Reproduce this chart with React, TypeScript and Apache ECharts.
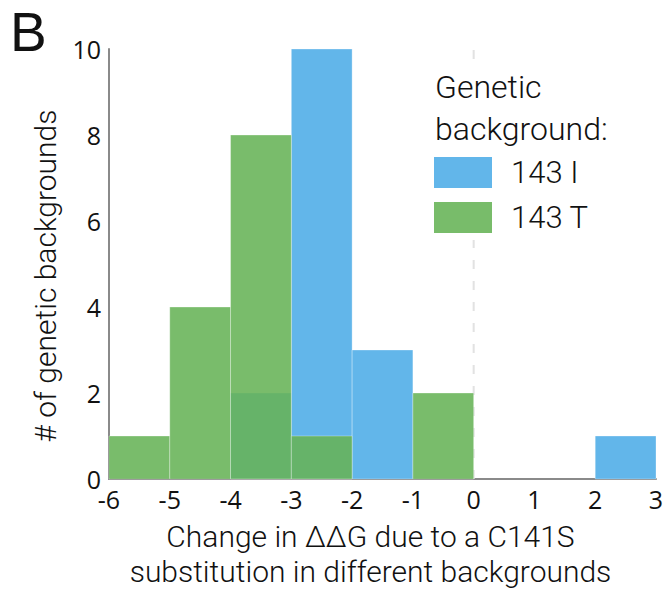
import React, { useEffect, useRef } from "react";
import * as echarts from "echarts";

const binStarts = [-6, -5, -4, -3, -2, -1, 0, 1, 2];
const binWidth = 1;
const counts143I = [0, 0, 2, 10, 3, 0, 0, 0, 1];
const counts143T = [1, 4, 8, 1, 0, 2, 0, 0, 0];
const seriesNames = ["143 I", "143 T"];
const xTicks = { min: -6, max: 3, interval: 1 };
const yTicks = { min: 0, max: 10, interval: 2 };
const refLineX = 0;

const BLUE = "#62b6ea";
const GREEN = "rgba(102,179,86,0.88)";

function toBins(counts: number[]) {
  return binStarts
    .map((s, i) => [s, s + binWidth, counts[i]])
    .filter((d) => d[2] > 0);
}

function renderBar(color: string) {
  return (params: any, api: any) => {
    const x0 = api.value(0);
    const x1 = api.value(1);
    const c = api.value(2);
    const p0 = api.coord([x0, c]);
    const p1 = api.coord([x1, 0]);
    return {
      type: "rect",
      shape: { x: p0[0], y: p0[1], width: p1[0] - p0[0], height: p1[1] - p0[1] },
      style: { fill: color, stroke: "rgba(255,255,255,0.3)", lineWidth: 1 },
    };
  };
}

export default function App() {
  const ref = useRef<HTMLDivElement>(null);
  useEffect(() => {
    if (!ref.current) return;
    document.body.style.margin = "0";
    const chart = echarts.init(ref.current, null, { renderer: "svg" });
    const titleFont = "Roboto, 'Liberation Sans', sans-serif";
    const tickFont = "'Open Sans', sans-serif";
    chart.setOption({
      animation: false,
      backgroundColor: "#fff",
      grid: { left: 109, right: 12, top: 49, bottom: 118 },
      xAxis: {
        type: "value",
        min: xTicks.min,
        max: xTicks.max,
        interval: xTicks.interval,
        axisLine: { onZero: false, lineStyle: { color: "#8a8a8a", width: 2 } },
        axisTick: { show: false },
        splitLine: { show: false },
        axisLabel: { color: "#111", fontSize: 25, fontFamily: tickFont, margin: 7 },
        name: "Change in ΔΔG due to a C141S\nsubstitution in different backgrounds",
        nameLocation: "middle",
        nameGap: 40,
        nameTextStyle: {
          color: "#111",
          fontSize: 30,
          fontWeight: 300,
          fontFamily: titleFont,
          lineHeight: 35,
          padding: [0, 24, 0, 0],
        },
      },
      yAxis: {
        type: "value",
        min: yTicks.min,
        max: yTicks.max,
        interval: yTicks.interval,
        axisLine: { show: true, onZero: false, lineStyle: { color: "#8a8a8a", width: 2 } },
        axisTick: { show: false },
        splitLine: { show: false },
        axisLabel: { color: "#111", fontSize: 25, fontFamily: tickFont, margin: 8 },
        name: "# of genetic backgrounds",
        nameLocation: "middle",
        nameRotate: 90,
        nameGap: 49,
        nameTextStyle: {
          color: "#111",
          fontSize: 30,
          fontWeight: 300,
          fontFamily: titleFont,
          padding: [0, 24, 0, 0],
        },
      },
      legend: {
        orient: "vertical",
        left: 434,
        top: 157,
        itemWidth: 58,
        itemHeight: 31,
        itemGap: 14,
        padding: 0,
        icon: "rect",
        z: 6,
        data: [
          { name: seriesNames[0], itemStyle: { color: BLUE } },
          { name: seriesNames[1], itemStyle: { color: "#78bc6a" } },
        ],
        textStyle: {
          color: "#111",
          fontSize: 31,
          fontWeight: 300,
          fontFamily: titleFont,
          padding: [0, 0, 0, 14],
        },
      },
      graphic: [
        {
          type: "rect",
          left: 428,
          top: 68,
          z: 4,
          shape: { width: 220, height: 172 },
          style: { fill: "#fff" },
        },
        {
          type: "text",
          left: 435,
          top: 66,
          z: 6,
          style: {
            text: "Genetic\nbackground:",
            fontSize: 32,
            fontWeight: 300,
            fontFamily: titleFont,
            lineHeight: 42,
            fill: "#111",
          },
        },
        {
          type: "text",
          left: 10,
          top: 0,
          z: 6,
          style: {
            text: "B",
            fontSize: 55,
            lineHeight: 64,
            fontFamily: "'Liberation Sans', Arial, sans-serif",
            fill: "#111",
          },
        },
      ],
      series: [
        {
          type: "line",
          name: "ref",
          data: [
            [refLineX, yTicks.min],
            [refLineX, yTicks.max],
          ],
          symbol: "none",
          silent: true,
          z: 1,
          itemStyle: { color: "#e2e2e2" },
          lineStyle: { type: [9, 12], color: "#e2e2e2", width: 2 },
        },
        {
          type: "custom",
          name: seriesNames[0],
          itemStyle: { color: BLUE },
          renderItem: renderBar(BLUE),
          encode: { x: [0, 1], y: 2 },
          data: toBins(counts143I),
          z: 2,
        },
        {
          type: "custom",
          name: seriesNames[1],
          itemStyle: { color: GREEN },
          renderItem: renderBar(GREEN),
          encode: { x: [0, 1], y: 2 },
          data: toBins(counts143T),
          z: 2,
        },
      ],
    });
    return () => chart.dispose();
  }, []);
  return <div ref={ref} style={{ width: 668, height: 597 }} />;
}
